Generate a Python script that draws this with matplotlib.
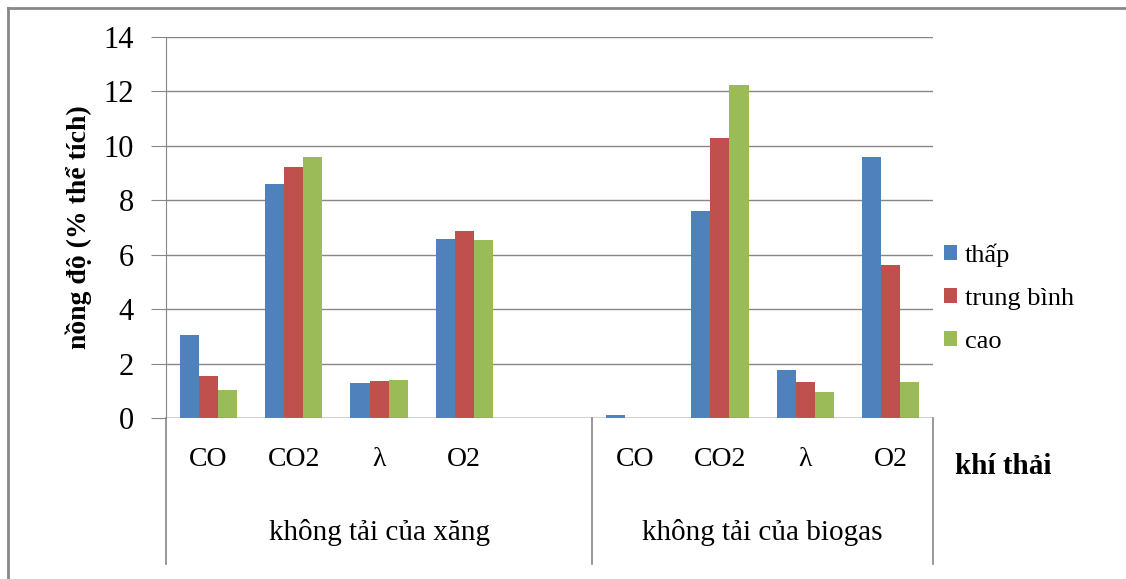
import numpy as np
import matplotlib.pyplot as plt
import matplotlib.transforms as mtransforms

plt.rcParams['font.family'] = ['Liberation Serif', 'DejaVu Serif']

# category slots: 5 for petrol (last one empty), 4 for biogas
gases = ["CO", "CO2", "λ", "O2"]
groups = ["không tải của xăng", "không tải của biogas"]
series = ["thấp", "trung bình", "cao"]
colors = ["#4F81BD", "#C0504D", "#9BBB59"]

petrol_low  = [3.05, 8.6, 1.30, 6.57]
petrol_mid  = [1.53, 9.21, 1.35, 6.86]
petrol_high = [1.02, 9.59, 1.40, 6.53]

biogas_low  = [0.11, 7.62, 1.78, 9.58]
biogas_mid  = [0.0, 10.3, 1.34, 5.62]
biogas_high = [0.0, 12.24, 0.96, 1.34]

petrol = [petrol_low, petrol_mid, petrol_high]
biogas = [biogas_low, biogas_mid, biogas_high]

x_petrol = np.arange(4)
x_biogas = np.arange(5, 9)

fig = plt.figure(figsize=(11.26, 5.79), dpi=100)
ax = fig.add_axes([166 / 1126, 1 - 418 / 579, (933 - 166) / 1126, (418 - 37) / 579])

grid_col = "#868686"
bw = 0.224
for i in range(3):
    off = (i - 1) * bw
    ax.bar(x_petrol + off, petrol[i], width=bw, color=colors[i], label=series[i], zorder=3)
    ax.bar(x_biogas + off, biogas[i], width=bw, color=colors[i], zorder=3)

ax.set_xlim(-0.5, 8.5)
ax.set_ylim(0, 14)
ax.set_yticks(np.arange(0, 15, 2))
ax.tick_params(axis='y', length=11, color=grid_col, labelsize=22, pad=12)
ax.yaxis.grid(True, color=grid_col, linewidth=1)
ax.set_axisbelow(True)

for s in ["top", "right", "bottom"]:
    ax.spines[s].set_visible(False)
ax.spines["left"].set_color(grid_col)

ax.set_xticks(list(x_petrol) + list(x_biogas))
ax.set_xticklabels(gases + gases, fontsize=20)
ax.tick_params(axis='x', length=0, pad=21)

# category axis line at zero and the group separators below it
trans = mtransforms.blended_transform_factory(ax.transData, ax.transAxes)
ax.axhline(0, color=grid_col, linewidth=1, zorder=4)
for xb in [-0.5, 4.5, 8.5]:
    ax.plot([xb, xb], [0, -0.382], color=grid_col, linewidth=1.2,
            transform=trans, clip_on=False)

ax.text(2, -0.30, groups[0], transform=trans, ha='center', va='center', fontsize=21)
ax.text(6.5, -0.30, groups[1], transform=trans, ha='center', va='center', fontsize=21)

ax.set_ylabel("nồng độ (% thể tích)", fontsize=20, fontweight='bold', labelpad=8)
fig.text(1003 / 1126, 1 - 466 / 579, "khí thải", fontsize=21, fontweight='bold',
         ha='center', va='center')

ax.legend(loc='center left', bbox_to_anchor=(1.0, 0.315), frameon=False,
          fontsize=19, handlelength=0.5, handleheight=0.5, handletextpad=0.3,
          labelspacing=0.8, borderaxespad=0.0)

# outer chart frame (left and top edges)
fig.add_artist(plt.Line2D([8 / 1126, 8 / 1126], [0, 1 - 8 / 579], color="#888888",
                          linewidth=2, transform=fig.transFigure))
fig.add_artist(plt.Line2D([8 / 1126, 1], [1 - 8 / 579, 1 - 8 / 579], color="#888888",
                          linewidth=2, transform=fig.transFigure))

fig.savefig("out.png", dpi=100)
